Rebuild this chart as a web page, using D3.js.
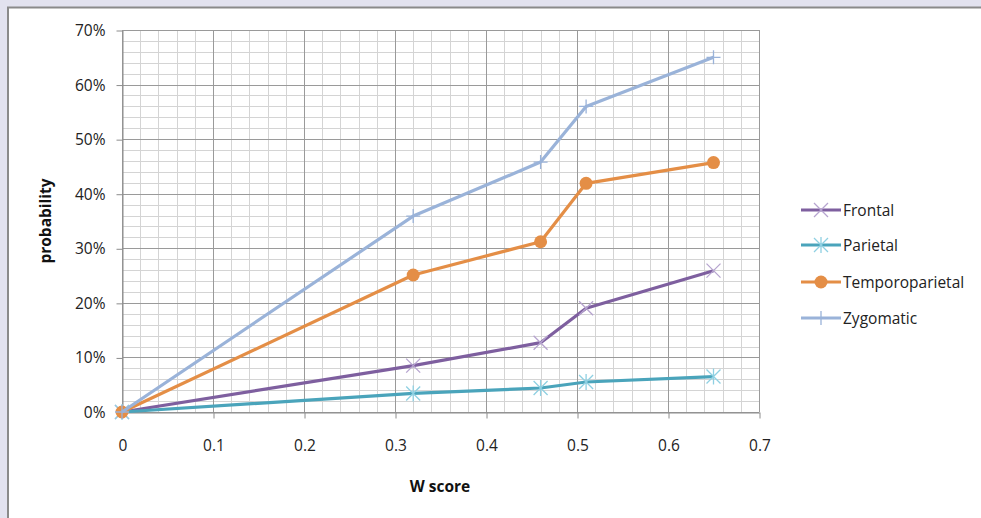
<!DOCTYPE html>
<html><head><meta charset="utf-8">
<script src="https://cdn.jsdelivr.net/npm/d3@7"></script>
<style>
html,body{margin:0;padding:0;background:#fff;}
svg{display:block;}
text{font-family:"Open Sans","Noto Sans",sans-serif;}
</style></head>
<body>
<script>
const wScores = [0, 0.32, 0.46, 0.51, 0.65];
const seriesNames = ["Frontal", "Parietal", "Temporoparietal", "Zygomatic"];
const frontal = [0, 0.085, 0.127, 0.19, 0.259];
const parietal = [0, 0.034, 0.044, 0.055, 0.065];
const temporoparietal = [0, 0.251, 0.312, 0.419, 0.457];
const zygomatic = [0, 0.359, 0.458, 0.56, 0.65];
const xTicks = [0, 0.1, 0.2, 0.3, 0.4, 0.5, 0.6, 0.7];
const yTicks = [0, 0.1, 0.2, 0.3, 0.4, 0.5, 0.6, 0.7];

const W = 981, H = 518;
const svg = d3.select("body").append("svg").attr("width", W).attr("height", H);

// frame
svg.append("rect").attr("x",0).attr("y",0).attr("width",W).attr("height",H).attr("fill","#e2e2ef");
svg.append("rect").attr("x",8).attr("y",7).attr("width",W-8).attr("height",H-7).attr("fill","#fff");
svg.append("path").attr("d",`M8,${H} V7.5 H${W}`).attr("fill","none").attr("stroke","#8a8a8a").attr("stroke-width",2);

const x = d3.scaleLinear().domain([0,0.7]).range([122,759]);
const y = d3.scaleLinear().domain([0,0.7]).range([412,30]);

// minor grid
const minorX = d3.range(0, 0.7001, 0.02);
const minorY = d3.range(0, 0.7001, 0.02);
const g = svg.append("g");
g.selectAll("line.mx").data(minorX).join("line")
  .attr("x1", d=>Math.round(x(d))+0.5).attr("x2", d=>Math.round(x(d))+0.5)
  .attr("y1", y(0.7)).attr("y2", y(0))
  .attr("stroke","#d4d4d4").attr("stroke-width",1);
g.selectAll("line.my").data(minorY).join("line")
  .attr("y1", d=>Math.round(y(d))+0.5).attr("y2", d=>Math.round(y(d))+0.5)
  .attr("x1", x(0)).attr("x2", x(0.7))
  .attr("stroke","#d4d4d4").attr("stroke-width",1);
// major grid
g.selectAll("line.Mx").data(xTicks).join("line")
  .attr("x1", d=>Math.round(x(d))+0.5).attr("x2", d=>Math.round(x(d))+0.5)
  .attr("y1", y(0.7)).attr("y2", y(0))
  .attr("stroke","#9a9a9a").attr("stroke-width",1);
g.selectAll("line.My").data(yTicks).join("line")
  .attr("y1", d=>Math.round(y(d))+0.5).attr("y2", d=>Math.round(y(d))+0.5)
  .attr("x1", x(0)).attr("x2", x(0.7))
  .attr("stroke","#9a9a9a").attr("stroke-width",1);

// axes
const yAxis = d3.axisLeft(y).tickValues(yTicks).tickFormat(d3.format(".0%")).tickSizeInner(6).tickSizeOuter(0).tickPadding(11);
const ya = svg.append("g").attr("transform",`translate(${x(0)+0.5},0.5)`).call(yAxis);
const xAxis = d3.axisBottom(x).tickValues(xTicks).tickFormat(d=>d===0?"0":d3.format(".1f")(d)).tickSizeInner(6).tickSizeOuter(0).tickPadding(21);
const xa = svg.append("g").attr("transform",`translate(0.5,${y(0)+0.5})`).call(xAxis);
[ya,xa].forEach(a=>{
  a.select(".domain").attr("stroke","#8c8c8c");
  a.selectAll(".tick line").attr("stroke","#8c8c8c");
  a.selectAll("text").attr("fill","#222").style("font-size","15.5px").style("font-family","'Open Sans',sans-serif");
});

// axis titles
svg.append("text").attr("x",440).attr("y",492).attr("text-anchor","middle")
  .style("font-size","15.5px").style("font-weight","bold").attr("fill","#111").text("W score");
svg.append("text").attr("transform","translate(51,221) rotate(-90)").attr("text-anchor","middle")
  .style("font-size","15.5px").style("font-weight","bold").attr("fill","#111").text("probability");

const series = [
  {name:seriesNames[0], vals:frontal, color:"#7e5f9f", mcolor:"#b6a4cf", marker:"x"},
  {name:seriesNames[1], vals:parietal, color:"#4aa4bb", mcolor:"#8fd0e2", marker:"star"},
  {name:seriesNames[2], vals:temporoparietal, color:"#e48e46", mcolor:"#e48e46", marker:"circle"},
  {name:seriesNames[3], vals:zygomatic, color:"#9ab3d9", mcolor:"#9ab3d9", marker:"plus"}
];

function drawMarker(sel, type, cx, cy, color){
  const s = 7;
  if(type==="circle"){
    sel.append("circle").attr("cx",cx).attr("cy",cy).attr("r",6.5).attr("fill",color);
  } else if(type==="x"){
    sel.append("path").attr("d",`M${cx-s},${cy-s}L${cx+s},${cy+s}M${cx-s},${cy+s}L${cx+s},${cy-s}`)
      .attr("stroke",color).attr("stroke-width",1.3).attr("fill","none");
  } else if(type==="star"){
    sel.append("path").attr("d",`M${cx-s},${cy-s}L${cx+s},${cy+s}M${cx-s},${cy+s}L${cx+s},${cy-s}M${cx},${cy-s-1}L${cx},${cy+s+1}`)
      .attr("stroke",color).attr("stroke-width",1.3).attr("fill","none");
  } else if(type==="plus"){
    sel.append("path").attr("d",`M${cx-s},${cy}L${cx+s},${cy}M${cx},${cy-s}L${cx},${cy+s}`)
      .attr("stroke",color).attr("stroke-width",1.3).attr("fill","none");
  }
}

const line = d3.line().x((d,i)=>x(wScores[i])).y(d=>y(d));
series.forEach(s=>{
  svg.append("path").datum(s.vals).attr("d",line).attr("fill","none")
    .attr("stroke",s.color).attr("stroke-width",3.2).attr("stroke-linejoin","round");
  const mg = svg.append("g");
  s.vals.forEach((v,i)=>drawMarker(mg, s.marker, x(wScores[i]), y(v), s.mcolor));
});

// legend
const lg = svg.append("g");
const ly = [210, 245, 282, 318];
series.forEach((s,i)=>{
  lg.append("line").attr("x1",801).attr("x2",841).attr("y1",ly[i]).attr("y2",ly[i])
    .attr("stroke",s.color).attr("stroke-width",3.2);
  drawMarker(lg, s.marker, 821, ly[i], s.mcolor);
  lg.append("text").attr("x",843).attr("y",ly[i]+5.5).style("font-size","15.5px").attr("fill","#222").text(s.name);
});
</script>
</body></html>
